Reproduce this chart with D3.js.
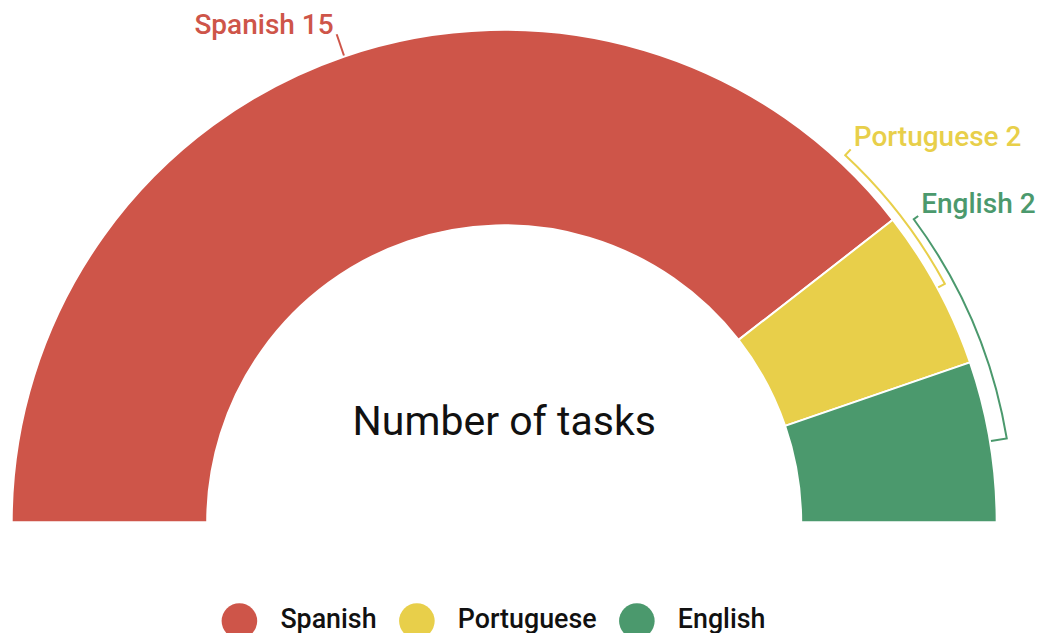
<!DOCTYPE html>
<html>
<head>
<meta charset="utf-8">
<script src="https://cdn.jsdelivr.net/npm/d3@7"></script>
<style>
  html, body { margin: 0; padding: 0; background: #fff; }
  svg { display: block; font-family: Roboto, "Noto Sans", sans-serif; }
</style>
</head>
<body>
<svg id="chart" width="1038" height="633"></svg>
<script>
// Task counts per language
const languages = ["Spanish", "Portuguese", "English"];
const taskCounts = [15, 2, 2];
const colors = ["#ce5549", "#e8cf4a", "#4b996d"];
const centerTitle = "Number of tasks";

// Label leader layout: bracket radius offset and label angle (degrees, clockwise from top)
const leaderLayout = [
  { bracket: 0,    tip: 23.5, labelAngle: null },
  { bracket: 8.5,  tip: 16.5, labelAngle: 42.9 },
  { bracket: 17,   tip: 22.5, labelAngle: 53.5 }
];

const svg = d3.select("#chart");
const cx = 504.2, cy = 522.3;
const outerR = 492.5, innerR = 297;

const data = languages.map((name, i) => ({ name, value: taskCounts[i], color: colors[i] }));

const pie = d3.pie()
  .sort(null)
  .value(d => d.value)
  .startAngle(-Math.PI / 2)
  .endAngle(Math.PI / 2);

const arc = d3.arc().innerRadius(innerR).outerRadius(outerR);

const g = svg.append("g").attr("transform", `translate(${cx},${cy})`);
const slices = pie(data);

g.selectAll("path.slice")
  .data(slices)
  .join("path")
  .attr("class", "slice")
  .attr("d", arc)
  .attr("fill", d => d.data.color)
  .attr("stroke", "#fff")
  .attr("stroke-width", 2)
  .attr("stroke-linejoin", "round");

const polar = (r, a) => [r * Math.sin(a), -r * Math.cos(a)];
const rad = deg => deg * Math.PI / 180;

slices.forEach((s, i) => {
  const lay = leaderLayout[i];
  const mid = (s.startAngle + s.endAngle) / 2;
  const la = lay.labelAngle == null ? mid : rad(lay.labelAngle);
  const rb = outerR + lay.bracket;
  const rt = outerR + lay.tip;
  const p0 = polar(outerR + 1, mid);
  const p1 = polar(rb, mid);
  const p2 = polar(rb, la);
  const p3 = polar(rt, la);
  let d;
  if (lay.bracket === 0) {
    d = `M${p0}L${p3}`;
  } else {
    d = `M${p0}L${p1}A${rb},${rb} 0 0 0 ${p2}L${p3}`;
  }
  g.append("path")
    .attr("d", d)
    .attr("fill", "none")
    .attr("stroke", s.data.color)
    .attr("stroke-width", 2);

  const right = p3[0] > 0;
  g.append("text")
    .attr("x", p3[0] + (right ? 3 : -3))
    .attr("y", p3[1] - (right ? 3 : 0))
    .attr("text-anchor", right ? "start" : "end")
    .attr("font-size", 28)
    .attr("font-weight", 500)
    .attr("fill", s.data.color)
    .text(`${s.data.name} ${s.data.value}`);
});

g.append("text")
  .attr("x", 0)
  .attr("y", 435 - cy)
  .attr("text-anchor", "middle")
  .attr("font-size", 41)
  .attr("fill", "#111")
  .text(centerTitle);

// Legend
const legend = svg.append("g");
const legendY = 621, dotR = 17.8;
let lx = 221.6;
data.forEach(d => {
  const item = legend.append("g");
  item.append("circle")
    .attr("cx", lx + dotR)
    .attr("cy", legendY)
    .attr("r", dotR)
    .attr("fill", d.color);
  const t = item.append("text")
    .attr("x", lx + dotR + 41)
    .attr("y", legendY + 7)
    .attr("font-size", 26.8)
    .attr("font-weight", 500)
    .attr("fill", "#111")
    .text(d.name);
  const w = t.node().getComputedTextLength();
  lx = lx + dotR + 41 + w + 22.5;
});
</script>
</body>
</html>
